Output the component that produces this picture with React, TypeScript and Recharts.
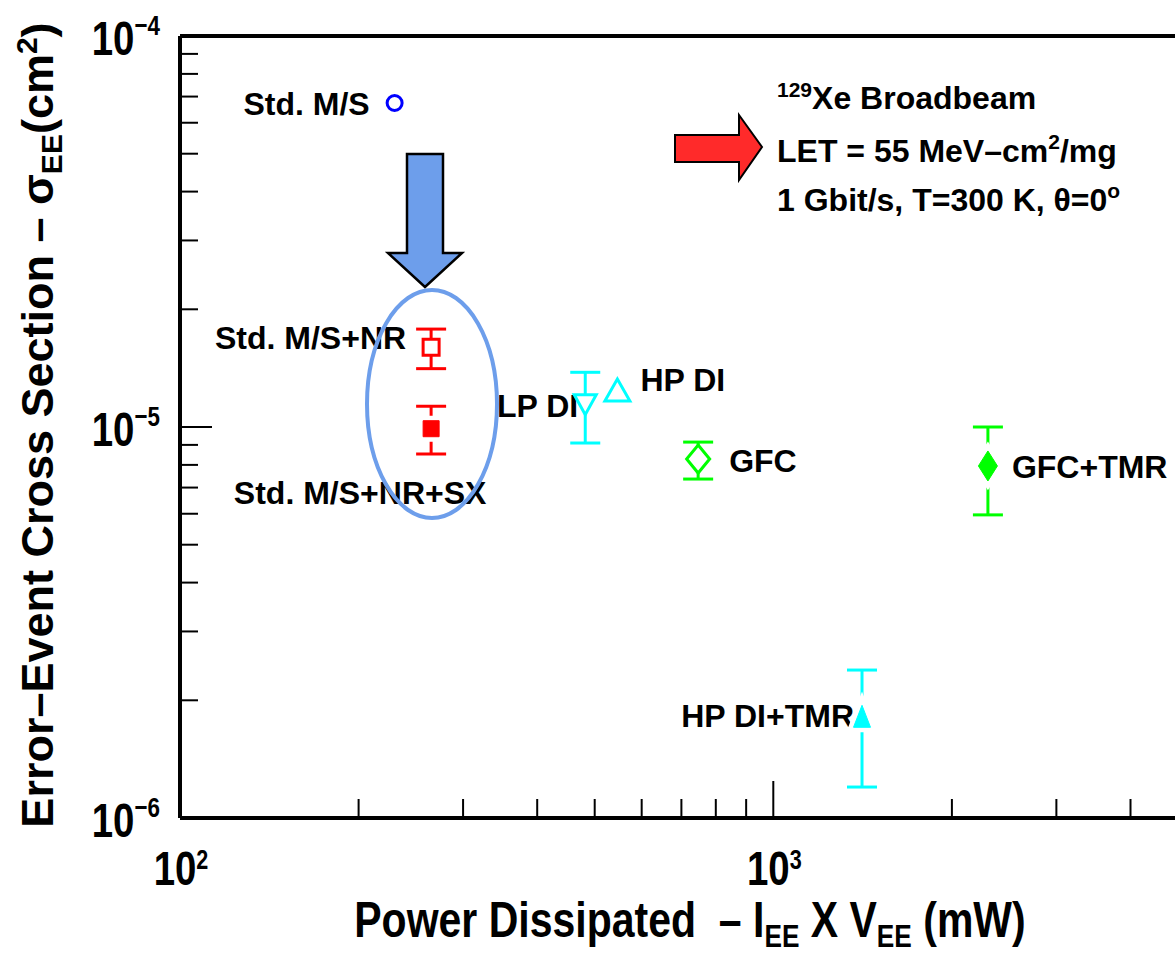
import React from 'react';
import { ScatterChart, Scatter, XAxis, YAxis, ErrorBar, ReferenceLine } from 'recharts';

// ---- data ----
const seriesNames = ['Std. M/S', 'Std. M/S+NR', 'Std. M/S+NR+SX', 'LP DI', 'HP DI', 'GFC', 'GFC+TMR', 'HP DI+TMR'];
const power = [230, 265, 265, 482, 546, 747, 2300, 1411]; // mW
const sigma = [6.74e-5, 1.6e-5, 9.9e-6, 1.14e-5, 1.243e-5, 8.28e-6, 7.95e-6, 1.82e-6]; // cm^2
const sigmaLow: (number | null)[] = [null, 1.41e-5, 8.53e-6, 9.1e-6, null, 7.36e-6, 5.96e-6, 1.2e-6];
const sigmaHigh: (number | null)[] = [null, 1.78e-5, 1.13e-5, 1.38e-5, null, 9.15e-6, 1.0e-5, 2.39e-6];
const xTicks = [100, 200, 300, 400, 500, 600, 700, 800, 900, 1000, 2000, 3000, 4000, 5000];
const yTicks = [1e-6, 2e-6, 3e-6, 4e-6, 5e-6, 6e-6, 7e-6, 8e-6, 9e-6, 1e-5, 2e-5, 3e-5, 4e-5, 5e-5, 6e-5, 7e-5, 8e-5, 9e-5, 1e-4];
const noteLines = ['Xe Broadbeam', 'LET = 55 MeV\u2013cm', '1 Gbit/s, T=300 K, \u03b8=0'];

// ---- styles ----
const SANS = "'Liberation Sans', Arial, Helvetica, sans-serif";
const RED = '#ff0000';
const CYAN = '#00ffff';
const GREEN = '#00ff00';
const BLUE = '#0000ff';
const MARK = '#6d9eeb';
const SQUEEZE = 0.8;

type MStyle = { kind: string; color: string; filled: boolean; w: number; h: number; dx: number; dy: number; anchor: 'start' | 'middle' | 'end' };
const markStyles: MStyle[] = [
  { kind: 'circle', color: BLUE, filled: false, w: 17, h: 17, dx: -25, dy: 12, anchor: 'end' },
  { kind: 'square', color: RED, filled: false, w: 16, h: 16, dx: -25, dy: 2, anchor: 'end' },
  { kind: 'square', color: RED, filled: true, w: 16, h: 16, dx: -71, dy: 75, anchor: 'middle' },
  { kind: 'triDown', color: CYAN, filled: false, w: 22, h: 20, dx: -7, dy: 12, anchor: 'end' },
  { kind: 'triUp', color: CYAN, filled: false, w: 25, h: 22, dx: 23, dy: 1, anchor: 'start' },
  { kind: 'diamond', color: GREEN, filled: false, w: 23, h: 28, dx: 31, dy: 13, anchor: 'start' },
  { kind: 'diamond', color: GREEN, filled: true, w: 19, h: 30, dx: 24, dy: 12, anchor: 'start' },
  { kind: 'triUp', color: CYAN, filled: true, w: 17, h: 22, dx: -8, dy: 11, anchor: 'end' },
];

const rows = seriesNames.map((name, i) => ({
  name,
  x: power[i],
  y: sigma[i],
  err: sigmaLow[i] != null && sigmaHigh[i] != null ? [sigma[i] - (sigmaLow[i] as number), (sigmaHigh[i] as number) - sigma[i]] : null,
}));

function markerPath(kind: string, cx: number, cy: number, w: number, h: number): string {
  const hw = w / 2, hh = h / 2;
  switch (kind) {
    case 'square':
      return `M${cx - hw},${cy - hh}L${cx + hw},${cy - hh}L${cx + hw},${cy + hh}L${cx - hw},${cy + hh}Z`;
    case 'triDown':
      return `M${cx - hw},${cy - hh}L${cx + hw},${cy - hh}L${cx},${cy + hh}Z`;
    case 'triUp':
      return `M${cx - hw},${cy + hh}L${cx + hw},${cy + hh}L${cx},${cy - hh}Z`;
    case 'diamond':
      return `M${cx},${cy - hh}L${cx + hw},${cy}L${cx},${cy + hh}L${cx - hw},${cy}Z`;
    default:
      return '';
  }
}

const makeShape = (i: number) => (props: any) => {
  const { cx, cy } = props;
  if (cx == null || cy == null) return <g />;
  const s = markStyles[i];
  const label = (
    <text x={cx + s.dx} y={cy + s.dy} textAnchor={s.anchor} fontFamily={SANS} fontWeight="bold" fontSize={32} fill="#000">
      {seriesNames[i]}
    </text>
  );
  let mark;
  if (s.kind === 'circle') {
    mark = <circle cx={cx} cy={cy} r={s.w / 2 - 1} fill="#fff" stroke={s.color} strokeWidth={3} />;
  } else {
    const d = markerPath(s.kind, cx, cy, s.w, s.h);
    mark = s.filled ? (
      <g>
        <path d={d} fill="#fff" stroke="#fff" strokeWidth={10} strokeLinejoin="miter" />
        <path d={d} fill={s.color} stroke={s.color} strokeWidth={1} />
      </g>
    ) : (
      <path d={d} fill="#fff" stroke={s.color} strokeWidth={3} strokeLinejoin="miter" />
    );
  }
  return (
    <g>
      {label}
      {mark}
    </g>
  );
};

const XTick = (props: any) => {
  const { x, y, payload } = props;
  const v = payload.value as number;
  const e = Math.log10(v);
  const major = Math.abs(e - Math.round(e)) < 1e-6;
  return (
    <g>
      <line x1={x} y1={y} x2={x} y2={y - (major ? 37 : 19)} stroke="#000" strokeWidth={2} />
      {major && (
        <g transform={`translate(${x + 1},${y + 67}) scale(${SQUEEZE},1)`}>
          <text x={0} y={0} textAnchor="middle" fontFamily={SANS} fontWeight="bold" fontSize={48} fill="#000">
            10
            <tspan dy={-16} fontSize={27}>
              {Math.round(e)}
            </tspan>
          </text>
        </g>
      )}
    </g>
  );
};

const YTick = (props: any) => {
  const { x, y, payload } = props;
  const v = payload.value as number;
  const e = Math.log10(v);
  const major = Math.abs(e - Math.round(e)) < 1e-6;
  return (
    <g>
      <line x1={x} y1={y} x2={x + (major ? 32 : 18)} y2={y} stroke="#000" strokeWidth={2} />
      {major && (
        <g transform={`translate(${x - 20},${y + 19}) scale(${SQUEEZE},1)`}>
          <text x={0} y={0} textAnchor="end" fontFamily={SANS} fontWeight="bold" fontSize={48} fill="#000">
            10
            <tspan dy={-20} fontSize={28}>
              {'\u2212' + Math.abs(Math.round(e))}
            </tspan>
          </text>
        </g>
      )}
    </g>
  );
};

const XTitle = (props: any) => {
  const vb = props.viewBox || { x: 180, y: 818, width: 1008, height: 135 };
  const cx = vb.x + vb.width / 2 + 6;
  const by = vb.y + 119;
  return (
    <g transform={`translate(${cx},${by}) scale(0.82,1)`}>
      <text x={0} y={0} textAnchor="middle" fontFamily={SANS} fontWeight="bold" fontSize={50} fill="#000">
        {'Power Dissipated\u00a0 \u2013 I'}
        <tspan dy={10} fontSize={32}>EE</tspan>
        <tspan dy={-10}>{' X V'}</tspan>
        <tspan dy={10} fontSize={32}>EE</tspan>
        <tspan dy={-10}>{' (mW)'}</tspan>
      </text>
    </g>
  );
};

const YTitle = (props: any) => {
  const vb = props.viewBox || { x: 0, y: 36, width: 180, height: 782 };
  const cy = vb.y + vb.height / 2 - 2;
  const bx = 53;
  return (
    <text x={bx} y={cy} transform={`rotate(-90 ${bx} ${cy})`} textAnchor="middle" fontFamily={SANS} fontWeight="bold" fontSize={45} fill="#000">
      {'Error\u2013Event Cross Section \u2013 \u03c3'}
      <tspan dy={9} fontSize={30}>EE</tspan>
      <tspan dy={-9}>(cm</tspan>
      <tspan dy={-16} fontSize={30}>2</tspan>
      <tspan dy={16}>)</tspan>
    </text>
  );
};

export default function App() {
  return (
    <div style={{ position: 'absolute', left: 0, top: 0, width: 1175, height: 953, overflow: 'hidden', background: '#fff' }}>
      <ScatterChart width={1188} height={953} margin={{ top: 36, right: 0, bottom: 0, left: 0 }}>
        <XAxis
          type="number"
          dataKey="x"
          scale="log"
          domain={[100, 5000]}
          ticks={xTicks}
          interval={0}
          allowDataOverflow
          height={135}
          tickSize={0}
          tickMargin={0}
          tickLine={false}
          axisLine={{ stroke: '#000', strokeWidth: 4 }}
          tick={(p: any) => <XTick {...p} />}
          label={<XTitle />}
        />
        <YAxis
          type="number"
          dataKey="y"
          scale="log"
          domain={[1e-6, 1e-4]}
          ticks={yTicks}
          interval={0}
          allowDataOverflow
          width={180}
          tickSize={0}
          tickMargin={0}
          tickLine={false}
          axisLine={{ stroke: '#000', strokeWidth: 4 }}
          tick={(p: any) => <YTick {...p} />}
          label={<YTitle />}
        />
        <ReferenceLine y={1e-4} stroke="#000" strokeWidth={4} ifOverflow="extendDomain" />
        {rows.map((r, i) => (
          <Scatter key={r.name} name={r.name} data={[r]} isAnimationActive={false} shape={makeShape(i)}>
            {r.err && (
              <ErrorBar dataKey="err" direction="y" width={15} stroke={markStyles[i].color} strokeWidth={3} isAnimationActive={false} />
            )}
          </Scatter>
        ))}
      </ScatterChart>
      <svg width={1175} height={953} style={{ position: 'absolute', left: 0, top: 0, pointerEvents: 'none' }}>
        {/* blue arrow */}
        <path d="M407,154 L443,154 L443,253 L462,253 L425,287 L388,253 L407,253 Z" fill={MARK} stroke="#000" strokeWidth={2.5} strokeLinejoin="miter" />
        {/* ellipse */}
        <ellipse cx={432} cy={404} rx={65} ry={114} fill="none" stroke={MARK} strokeWidth={4} />
        {/* red arrow */}
        <path d="M675,135 L739,135 L739,115 L762,147 L739,180 L739,162 L675,162 Z" fill="#ff2a2a" stroke="#000" strokeWidth={2} strokeLinejoin="miter" />
        {/* note text */}
        <text x={777} y={109} fontFamily={SANS} fontWeight="bold" fontSize={32} fill="#000">
          <tspan fontSize={21} dy={-12}>129</tspan>
          <tspan dy={12}>{noteLines[0]}</tspan>
        </text>
        <text x={777} y={162} fontFamily={SANS} fontWeight="bold" fontSize={32} fill="#000">
          {noteLines[1]}
          <tspan fontSize={21} dy={-13}>2</tspan>
          <tspan dy={13}>/mg</tspan>
        </text>
        <text x={777} y={211} fontFamily={SANS} fontWeight="bold" fontSize={32} fill="#000">
          {noteLines[2]}
          <tspan fontSize={21} dy={-13}>o</tspan>
        </text>
      </svg>
    </div>
  );
}
